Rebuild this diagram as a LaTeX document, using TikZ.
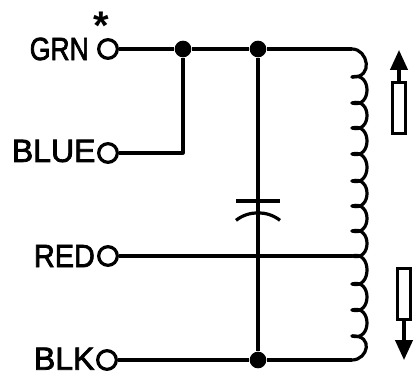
\documentclass[tikz,border=0pt]{standalone}
\usepackage{fontspec}
\setmainfont{Liberation Sans}
\newfontfamily\labelfont[FakeBold=2.5]{Liberation Sans}
\usetikzlibrary{arrows.meta,positioning}

\begin{document}
\begin{tikzpicture}[
    x = 0.75pt, y = -0.75pt,
    wire/.style = {draw, line width=2.4pt, line join=round},
    terminal/.style = {circle, draw, line width=2.4pt, fill=white, inner sep=0pt, minimum size=14pt},
    junction/.style = {circle, fill=black, inner sep=0pt, minimum size=12.5pt},
    wirelabel/.style = {inner sep=0pt, font=\fontsize{24pt}{26pt}\labelfont},
    slug/.style = {rectangle, draw, line width=2.4pt, inner sep=0pt, minimum width=10pt, minimum height=38pt},
    move/.style = {draw, line width=2.4pt, -{Triangle[length=15pt,width=13pt]}},
    coilloop/.style = {draw, line width=2.4pt, line cap=round}
]
\useasboundingbox (0,0) rectangle (416,373);

\node[terminal] (grn) at (108,49) {};
\node[terminal] (blue) at (108,153) {};
\node[terminal] (red) at (108,256) {};
\node[terminal] (blk) at (107,360) {};
\node[wirelabel, left=6pt of grn] (grnlabel) {\scalebox{0.83}[1]{GRN}};
\node[wirelabel, left=1pt of blue, yshift=1.5pt] (bluelabel) {BLUE};
\node[wirelabel, left=1.5pt of red] (redlabel) {\scalebox{0.9}[1]{RED}};
\node[wirelabel, left=1pt of blk, yshift=1pt] (blklabel) {BLK};
\node[inner sep=0pt, font=\fontsize{30pt}{32pt}\selectfont\bfseries] (mark) at (101,26) {*};

\node[junction] (top1) at (183,49) {};
\node[junction] (top2) at (258,49) {};
\node[junction] (bottom) at (258,360) {};
\coordinate (corner) at (183,153);
\coordinate (coiltop) at (352,49);
\coordinate (tap) at (352,256);
\coordinate (coilbottom) at (352,360);
\coordinate (platea) at (258,201);
\coordinate (plateb) at (258,209);

% cusps of the winding
\foreach \name/\ypos in {c1/77,c2/103,c3/128,c4/154,c5/181,c6/206,c7/231,c8/284,c9/310,c10/336}
    \coordinate (\name) at (352,\ypos);

\path[wire] (grn) -- (top1);
\path[wire] (top1) -- (top2);
\path[wire] (top2) -- (coiltop);
\path[wire] (blue) -- (corner) -- (top1);
\path[wire] (red) -- (tap);
\path[wire] (blk) -- (bottom);
\path[wire] (bottom) -- (coilbottom);
\path[wire] (top2) -- (bottom);

% capacitor
\draw[line width=2.4pt] ([xshift=-16.5pt]platea) -- ([xshift=16.5pt]platea);
\draw[line width=2.4pt] ([xshift=-16.5pt,yshift=-8.5pt]plateb) .. controls ([xshift=-7pt,yshift=-1pt]plateb) and ([xshift=7pt,yshift=-1pt]plateb) .. ([xshift=16.5pt,yshift=-8.5pt]plateb);

% winding
\path[coilloop] (coiltop) .. controls +(16,0) and +(22,1) .. (c1);
\foreach \from/\to in {c1/c2,c2/c3,c3/c4,c4/c5,c5/c6,c6/c7,c7/tap,tap/c8,c8/c9,c9/c10}
    \path[coilloop] (\from) .. controls +(20,-6) and +(20,6) .. (\to);
\path[coilloop] (c10) .. controls +(22,-1) and +(16,0) .. (coilbottom);

% slugs
\node[slug] (slugup) at (399,108) {};
\node[slug] (slugdown) at (404,294) {};
\coordinate (tipup) at (399,50);
\coordinate (tipdown) at (404,360);
\path[move] (slugup) -- (tipup);
\path[move] (slugdown) -- (tipdown);
\end{tikzpicture}
\end{document}
